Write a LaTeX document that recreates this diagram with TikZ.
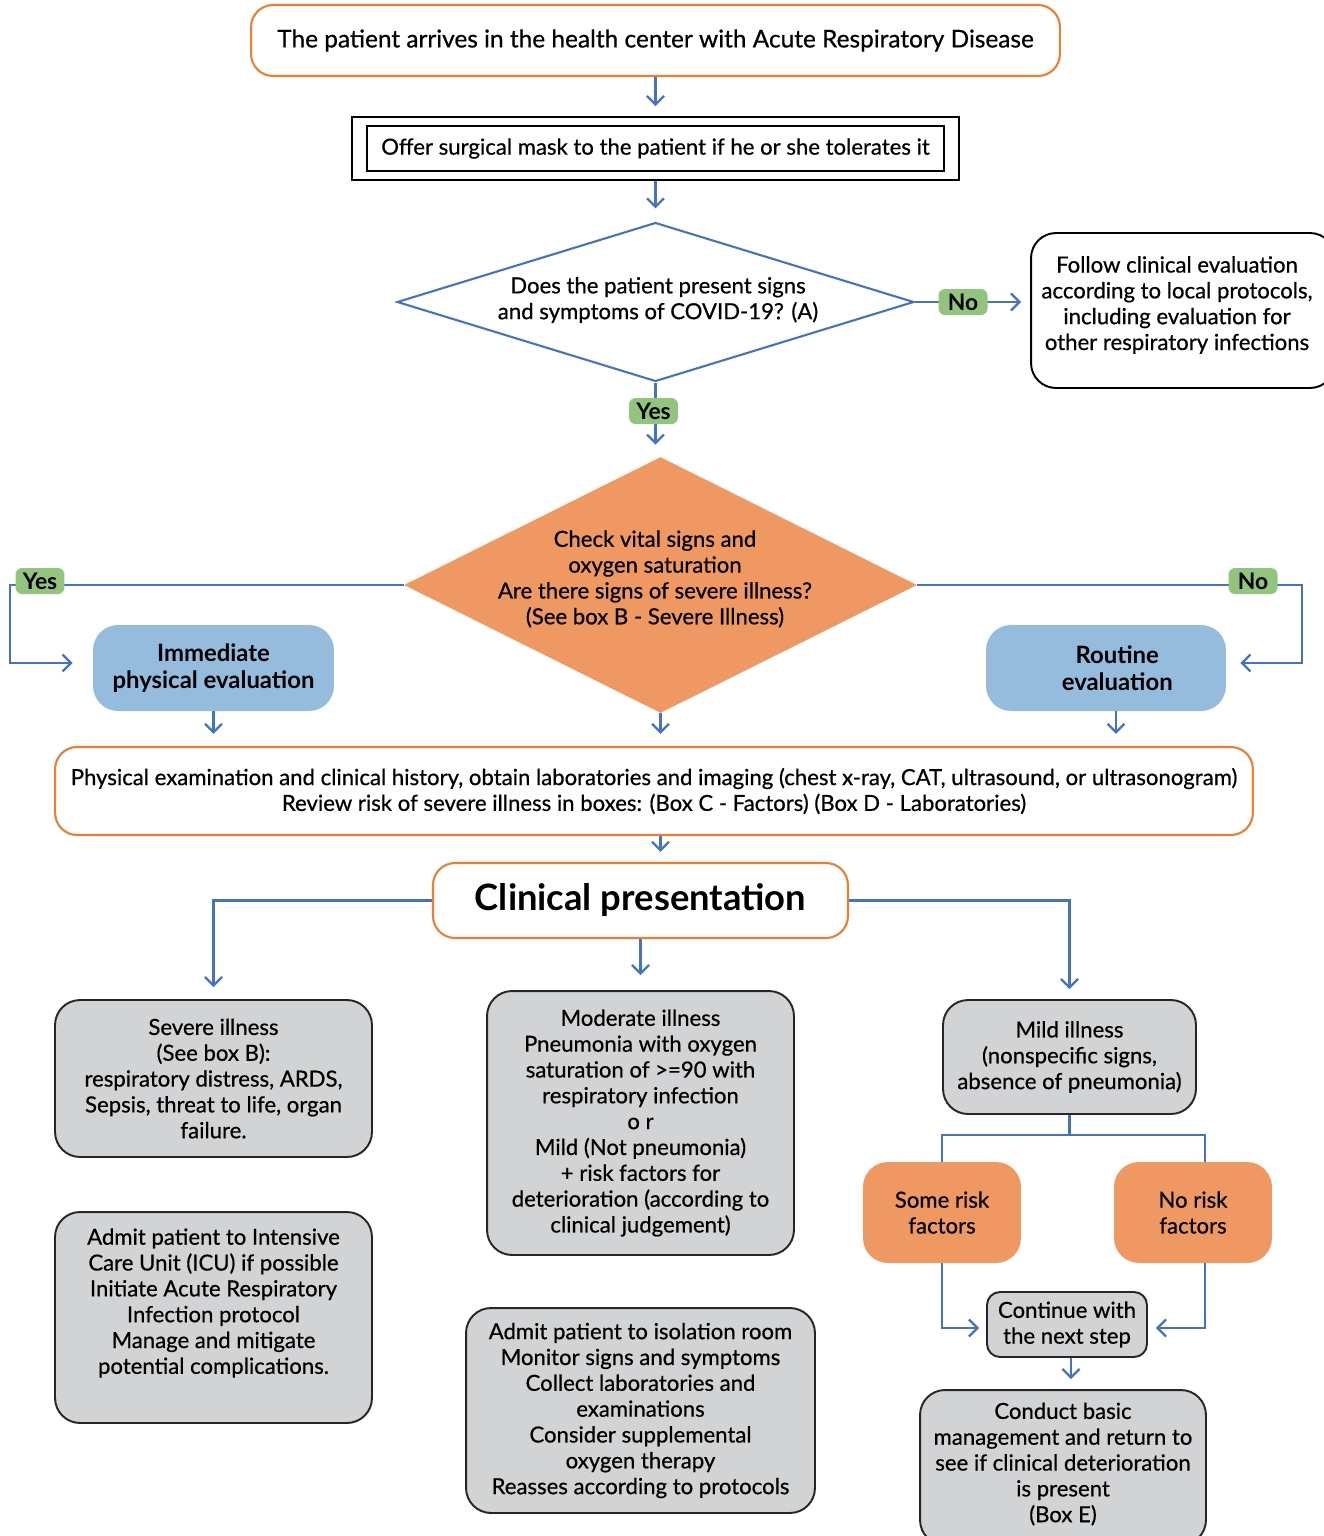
\documentclass[tikz,border=0pt]{standalone}
\usepackage{fontspec}
\setmainfont{Lato}[UprightFeatures={FakeBold=0.6}]
\usetikzlibrary{shapes.geometric,arrows.meta}
\definecolor{orL}{HTML}{ED7D31}
\definecolor{orF}{HTML}{F09862}
\definecolor{blL}{HTML}{4472C4}
\definecolor{blF}{HTML}{95BBDD}
\definecolor{grF}{HTML}{93C47D}
\definecolor{gyF}{HTML}{D2D3D5}
\begin{document}
\begin{tikzpicture}[x=0.02cm,y=-0.02cm,
  every node/.style={font=\fontsize{12.6}{14.7}\selectfont, align=center, inner sep=0pt},
  conn/.style={draw=blL, line width=1.3pt},
  arr/.style={conn, -{Straight Barb[length=1.7mm,width=3.4mm,line width=1.3pt]}},
  obox/.style={draw=orL, line width=1.2pt, rounded corners=0.44cm, fill=white},
  kbox/.style={draw=black, line width=1.1pt, rounded corners=0.5cm, fill=white},
  gbox/.style={draw=black!85, line width=1.1pt, rounded corners=0.5cm, fill=gyF},
  bbox/.style={fill=blF, rounded corners=0.5cm, font=\fontsize{13.6}{15.4}\selectfont\bfseries},
  rbox/.style={fill=orF, rounded corners=0.5cm},
  tagbox/.style={fill=grF, rounded corners=0.13cm, minimum width=0.98cm, minimum height=0.52cm, font=\fontsize{13}{14}\selectfont\bfseries}
]
\useasboundingbox (0,0) rectangle (1323,1536);

% nodes
\node[obox, minimum width=16.18cm, minimum height=1.42cm, font=\fontsize{13.9}{16}\selectfont] (top) at (655.5,40.5)
  {The patient arrives in the health center with Acute Respiratory Disease};
\node[draw=black, line width=1.1pt, minimum width=12.14cm, minimum height=1.26cm] (maskout) at (655.5,148.5) {};
\node[draw=black, line width=1.1pt, minimum width=11.56cm, minimum height=0.9cm] (mask) at (655.5,148.5)
  {Offer surgical mask to the patient if he or she tolerates it};
\node[diamond, draw=blL, line width=1.2pt, fill=white, minimum width=10.34cm, minimum height=3.18cm] (d1) at (655.5,302) {};
\node (d1t) at (658,300) {Does the patient present signs\\and symptoms of COVID-19? (A)};
\node[kbox, minimum width=6.08cm, minimum height=3.1cm] (follow) at (1183,310.5) {};
\node (followt) at (1177,305) {Follow clinical evaluation\\according to local protocols,\\including evaluation for\\other respiratory infections};
\node[diamond, fill=orF, minimum width=10.26cm, minimum height=5.12cm] (d2) at (660.5,585) {};
\node (d2t) at (655,579) {Check vital signs and\\oxygen saturation\\Are there signs of severe illness?\\(See box B - Severe Illness)};
\node[bbox, minimum width=4.82cm, minimum height=1.72cm] (imm) at (213.5,668) {Immediate\\physical evaluation};
\node[bbox, minimum width=4.8cm, minimum height=1.72cm] (rout) at (1106,668) {\hspace*{0.45cm}Routine\\\hspace*{0.45cm}evaluation};
\node[obox, minimum width=23.96cm, minimum height=1.76cm] (big) at (654,791)
  {Physical examination and clinical history, obtain laboratories and imaging (chest x-ray, CAT, ultrasound, or ultrasonogram)\\Review risk of severe illness in boxes: (Box C - Factors) (Box D - Laboratories)};
\node[obox, minimum width=8.3cm, minimum height=1.5cm, font=\fontsize{20.7}{24}\selectfont\bfseries] (cp) at (640.5,900.5) {Clinical presentation};
\node[gbox, minimum width=6.34cm, minimum height=3.14cm] (sev) at (213.5,1078.5)
  {Severe illness\\(See box B):\\respiratory distress, ARDS,\\Sepsis, threat to life, organ\\failure.};
\node[gbox, minimum width=6.34cm, minimum height=4.22cm] (icu) at (213.5,1317.5) {};
\node (icut) at (213.5,1303) {Admit patient to Intensive\\Care Unit (ICU) if possible\\Initiate Acute Respiratory\\Infection protocol\\Manage and mitigate\\potential complications.};
\node[gbox, minimum width=6.14cm, minimum height=5.28cm] (mod) at (640.5,1123)
  {Moderate illness\\Pneumonia with oxygen\\saturation of >=90 with\\respiratory infection\\o r\\Mild (Not pneumonia)\\+ risk factors for\\deterioration (according to\\clinical judgement)};
\node[gbox, minimum width=6.98cm, minimum height=4.1cm] (iso) at (640.5,1410.5)
  {Admit patient to isolation room\\Monitor signs and symptoms\\Collect laboratories and\\examinations\\Consider supplemental\\oxygen therapy\\Reasses according to protocols};
\node[gbox, minimum width=5.06cm, minimum height=2.28cm] (mild) at (1069.5,1057)
  {Mild illness\\(nonspecific signs,\\absence of pneumonia)};
\node[rbox, minimum width=3.16cm, minimum height=2.02cm] (some) at (942,1212.5) {Some risk\\factors};
\node[rbox, minimum width=3.16cm, minimum height=2.02cm] (nork) at (1193,1212.5) {No risk\\factors};
\node[gbox, rounded corners=0.26cm, minimum width=3.2cm, minimum height=1.3cm] (cont) at (1067,1324.5) {Continue with\\the next step};
\node[gbox, minimum width=5.72cm, minimum height=3.1cm] (cond) at (1063,1467.5) {};
\node (condt) at (1063,1464) {Conduct basic\\management and return to\\see if clinical deterioration\\is present\\(Box E)};

% coordinates
\coordinate (lc) at (10,663);
\coordinate (rc) at (1302,663);
\coordinate (tl) at (943,1135);
\coordinate (tr) at (1205,1135);
\coordinate (nopos) at (963,302);

% connectors
\draw[arr, shorten >=0.2cm] (top) -- (maskout);
\draw[arr, shorten >=0.26cm] (maskout) -- (d1);
\draw[arr, shorten >=0.18cm] (d1.east) -- (d1.east -| follow.west);
\draw[conn] (d1.south) -- ++(0,20) coordinate (yesmid);
\draw[arr, shorten >=0.24cm] (yesmid) -- (yesmid |- d2.north);
\draw[arr, shorten >=0.4cm] (d2.west) -| (lc) -- (lc -| imm.west);
\draw[arr, shorten >=0.28cm] (d2.east) -| (rc) -- (rc -| rout.east);
\draw[arr, shorten >=0.24cm] (imm.south) -- (imm.south |- big.north);
\draw[arr, shorten >=0.24cm] (d2.south) -- (d2.south |- big.north);
\draw[arr, shorten >=0.24cm] ([xshift=0.2cm]rout.south) -- ([xshift=0.2cm]rout.south |- big.north);
\draw[arr, shorten >=0.2cm] (d2.south |- big.south) -- (d2.south |- cp.north);
\draw[arr, shorten >=0.24cm] (cp.west) -| (sev.north);
\draw[arr, shorten >=0.2cm] (cp.east) -| (mild.north);
\draw[arr, shorten >=0.3cm] (cp.south) -- (mod.north);
\draw[conn] (mild.south) -- (mild.south |- tl);
\draw[conn] (some.north) |- (tr) -- (tr |- nork.north);
\draw[arr, shorten >=0.14cm] (some.south) |- ([yshift=-0.07cm]cont.west);
\draw[arr, shorten >=0.16cm] (tr |- nork.south) |- ([yshift=-0.07cm]cont.east);
\draw[arr, shorten >=0.2cm] ([xshift=0.08cm]cont.south) -- ([xshift=0.08cm]cont.south |- cond.north);

% tags
\node[tagbox] (yes1) at (653.5,411) {Yes};
\node[tagbox] (no1) at (nopos) {No};
\node[tagbox] (yes2) at (40,581) {Yes};
\node[tagbox] (no2) at (1253,581) {No};
\end{tikzpicture}
\end{document}
